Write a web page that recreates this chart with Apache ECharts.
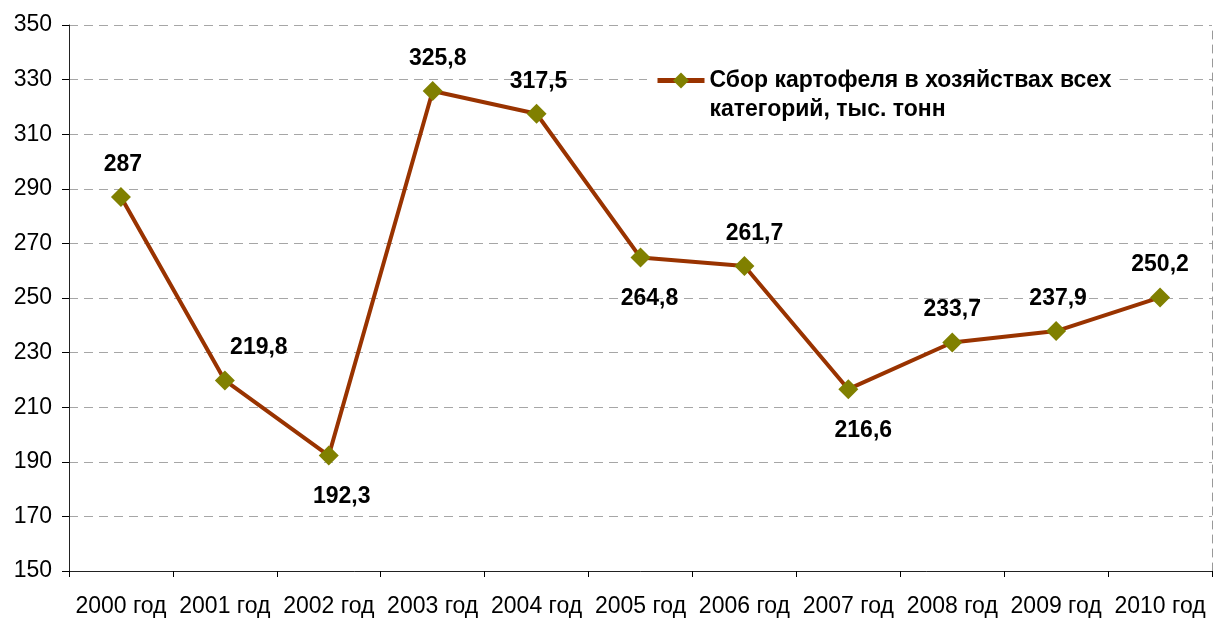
<!DOCTYPE html>
<html>
<head>
    <meta charset="utf-8">
    <title>ECharts</title>
    <script src="https://cdn.jsdelivr.net/npm/echarts@6/dist/echarts.min.js"></script>
</head>
<body>
<style>
    html, body, #main {
        width: 100%;
        height: 100%;
        padding: 0;
        margin: 0;
        background: #fff;
    }
</style>
<div id="main"></div>
<script type="text/javascript">
var years = ['2000 год', '2001 год', '2002 год', '2003 год', '2004 год', '2005 год',
             '2006 год', '2007 год', '2008 год', '2009 год', '2010 год'];
var harvest = [287, 219.8, 192.3, 325.8, 317.5, 264.8, 261.7, 216.6, 233.7, 237.9, 250.2];
// where each value label sits, and how far it is nudged sideways
var labelPos = ['top', 'top', 'bottom', 'top', 'top', 'bottom', 'top', 'bottom', 'top', 'top', 'top'];
var labelShift = [2, 34, 13, 5, 2, 9, 10, 15, 0, 2, 0];
var seriesName = 'Сбор картофеля в хозяйствах всех\nкатегорий, тыс. тонн';

var myChart = echarts.init(document.getElementById('main'));

var points = harvest.map(function (v, i) {
    return {
        value: v,
        label: {
            position: labelPos[i],
            distance: labelPos[i] == 'bottom' ? 20 : 11,
            offset: [labelShift[i], 0]
        }
    };
});

myChart.setOption({
    animation: false,
    textStyle: { fontFamily: 'Liberation Sans, Arial, sans-serif' },
    grid: { left: 69, right: 1, top: 25, bottom: 48 },
    legend: {
        show: true,
        left: 647,
        top: 37,
        backgroundColor: '#fff',
        padding: [0, 8, 0, 8],
        itemWidth: 47,
        itemHeight: 20,
        itemGap: 6,
        lineStyle: { width: 5 },
        textStyle: { fontSize: 23, fontWeight: 'bold', color: '#000', lineHeight: 29 },
        // empty first line keeps the icon level with the first text line
        formatter: function (name) { return ' \n' + name; },
        data: [{ name: seriesName }]
    },
    xAxis: {
        type: 'category',
        data: years,
        boundaryGap: true,
        axisLine: { lineStyle: { color: '#222', width: 1 } },
        axisTick: { show: true, length: 6, lineStyle: { color: '#000' } },
        axisLabel: { fontSize: 23, color: '#000', margin: 24, interval: 0 }
    },
    yAxis: [{
        type: 'value',
        min: 150,
        max: 350,
        interval: 20,
        axisLine: { show: true, lineStyle: { color: '#222', width: 1 } },
        axisTick: { show: true, length: 7, lineStyle: { color: '#000' } },
        axisLabel: { fontSize: 23, color: '#000', margin: 17 },
        splitLine: { lineStyle: { color: '#a6a6a6', type: [9, 6] } }
    }, {
        type: 'value',
        position: 'right',
        min: 150,
        max: 350,
        interval: 20,
        axisLine: { show: true, lineStyle: { color: '#999', type: [8, 6] } },
        axisTick: { show: false },
        axisLabel: { show: false },
        splitLine: { show: false }
    }],
    series: [{
        name: seriesName,
        type: 'line',
        data: points,
        symbol: 'diamond',
        symbolSize: 20,
        itemStyle: { color: '#808000' },
        lineStyle: { color: '#993300', width: 4 },
        label: {
            show: true,
            fontSize: 23,
            fontWeight: 'bold',
            color: '#000',
            formatter: function (p) {
                return String(p.value).replace('.', ',');
            }
        },
        z: 3
    }]
});
</script>
</body>
</html>
